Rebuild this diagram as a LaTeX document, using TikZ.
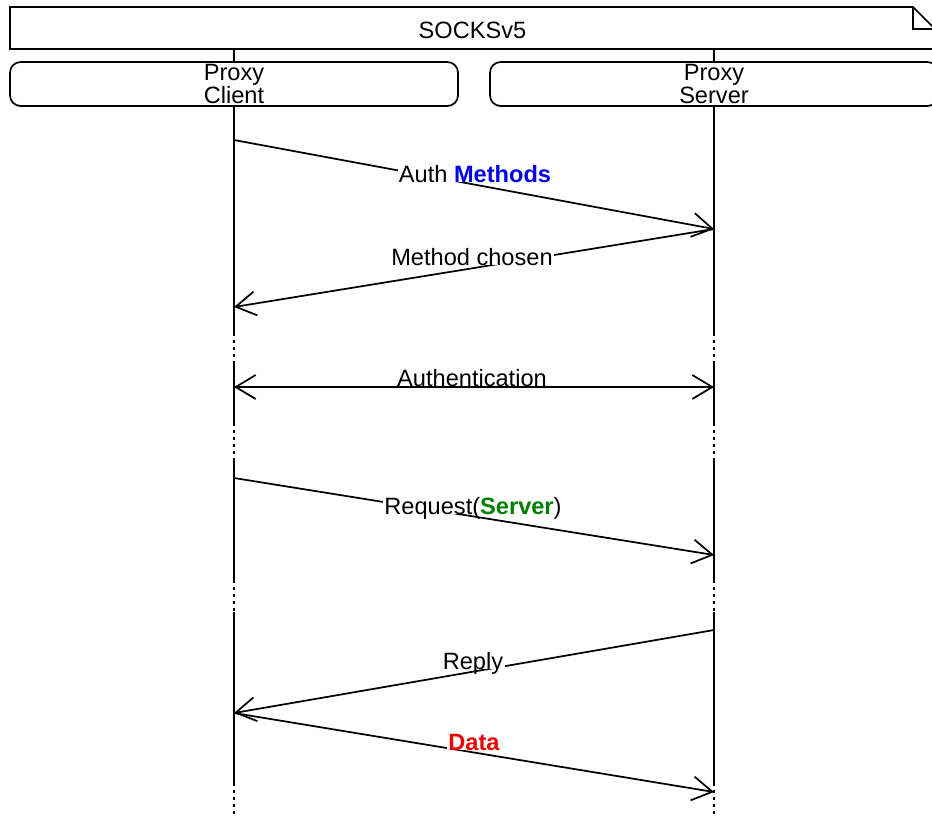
\documentclass[tikz,border=0pt]{standalone}
\usepackage{fontspec}
\setmainfont{Liberation Sans}
\usetikzlibrary{arrows.meta}
\definecolor{kwblue}{RGB}{0,0,235}
\definecolor{kwgreen}{RGB}{0,128,0}
\definecolor{kwred}{RGB}{235,0,0}
\tikzset{
  every node/.style={font=\fontsize{17.7pt}{17.25pt}\selectfont},
  line/.style={line width=1.3pt},
  gap/.style={line width=1.3pt, dash pattern=on 2.4pt off 2.8pt},
  barb/.tip={Straight Barb[length=15pt, width=18pt, line width=1.3pt]},
  msg/.style={line, -barb},
  bimsg/.style={line, barb-barb},
  entity/.style={draw, line width=1.3pt, rounded corners=8pt, minimum width=336pt,
    minimum height=33pt, inner sep=0pt, align=center},
  lbl/.style={fill=white, inner xsep=1pt, inner ysep=0pt, text depth=0pt, anchor=base},
}
\begin{document}
\begin{tikzpicture}[x=0.75pt, y=-0.75pt]
\useasboundingbox (0,0) rectangle (932,815);

% frame with folded corner
\draw[line] (935,49) -- (10,49) -- (10,7) -- (913,7) -- (935,29) -- cycle;
\draw[line] (913,7) -- (913,29) -- (935,29);
\node (title) at (472.5,30) {SOCKSv5};

% instances
\node[entity] (client) at (234,84) {Proxy\\Client};
\node[entity] (server) at (714,84) {Proxy\\Server};

% lifeline points
\foreach \n/\x in {c/234, s/714}{
  \coordinate (\n-top) at (\x,49);
  \coordinate (\n-a) at (\x,333);
  \coordinate (\n-b) at (\x,362);
  \coordinate (\n-c) at (\x,423);
  \coordinate (\n-d) at (\x,458);
  \coordinate (\n-e) at (\x,580);
  \coordinate (\n-f) at (\x,612);
  \coordinate (\n-g) at (\x,783);
  \coordinate (\n-h) at (\x,815);
}
\draw[line] (c-top) -- (client.north);
\draw[line] (s-top) -- (server.north);
\draw[line] (client.south) -- (c-a);
\draw[line] (server.south) -- (s-a);
\foreach \n in {c,s}{
  \draw[gap]  (\n-a) -- (\n-b);
  \draw[line] (\n-b) -- (\n-c);
  \draw[gap]  (\n-c) -- (\n-d);
  \draw[line] (\n-d) -- (\n-e);
  \draw[gap]  (\n-e) -- (\n-f);
  \draw[line] (\n-f) -- (\n-g);
  \draw[gap]  (\n-g) -- (\n-h);
}

% message end points
\coordinate (m1a) at (234,140);
\coordinate (m1b) at (714,229);
\coordinate (m2b) at (234,307);
\coordinate (m3a) at (234,387);
\coordinate (m3b) at (714,387);
\coordinate (m4a) at (234,478);
\coordinate (m4b) at (714,555);
\coordinate (m5a) at (714,630);
\coordinate (m5b) at (234,713);
\coordinate (m6b) at (714,792);

\draw[msg] (m1a) -- (m1b);
\draw[msg] (m1b) -- (m2b);
\draw[bimsg] (m3a) -- (m3b);
\draw[msg] (m4a) -- (m4b);
\draw[msg] (m5a) -- (m5b);
\draw[msg] (m5b) -- (m6b);

% message labels
\node[lbl] (l1) at (475,182) {Auth \textcolor{kwblue}{\textbf{Methods}}};
\node[lbl] (l2) at (472,265) {Method chosen};
\node[lbl] (l3) at (472,386) {Authentication};
\node[lbl] (l4) at (473,514) {Request(\textcolor{kwgreen}{\textbf{Server}})};
\node[lbl] (l5) at (473,669) {Reply};
\node[lbl] (l6) at (474,750) {\textcolor{kwred}{\textbf{Data}}};
\end{tikzpicture}
\end{document}
